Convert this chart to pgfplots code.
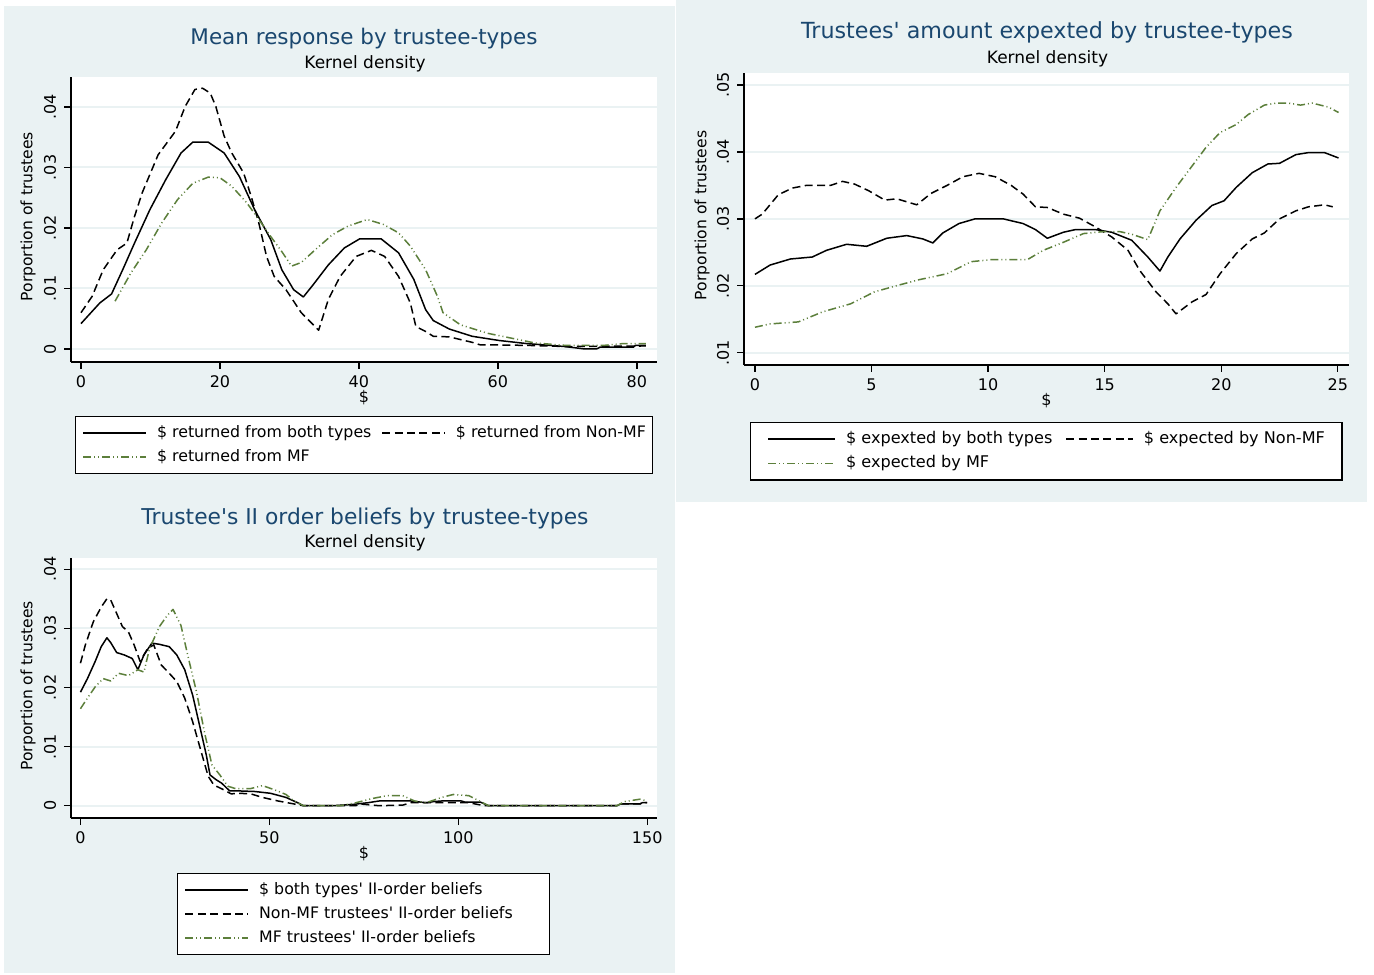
\documentclass[border=0pt]{standalone}
\usepackage{fontspec}
\setmainfont{DejaVu Sans}
\usepackage{pgfplots}
\pgfplotsset{compat=1.18}
\definecolor{bgc}{HTML}{EAF2F3}
\definecolor{ttl}{HTML}{1A476F}
\definecolor{mfg}{HTML}{5C7F3B}
\newcommand\q{\textquotesingle}
\pgfplotsset{
 statastyle/.style={
  scale only axis,
  axis x line*=bottom, axis y line*=left,
  x axis line style={-, line width=0.65pt},
  y axis line style={-, line width=0.65pt},
  axis background/.style={fill=white},
  tick align=outside, major tick length=3.5pt,
  every tick/.style={black, line width=0.65pt},
  ymajorgrids, major grid style={bgc, line width=1pt},
  scaled ticks=false,
  /pgf/number format/assume math mode=true,
  tick label style={font=\fontsize{8}{9}\selectfont},
  yticklabel style={rotate=90, anchor=south, inner sep=0pt},
  xticklabel style={anchor=north, inner sep=0pt},
  yticklabel shift=3.75pt, xticklabel shift=3.25pt,
  every axis y label/.style={rotate=90, anchor=center, font=\fontsize{7.8}{8.5}\selectfont},
  every axis x label/.style={anchor=center, font=\fontsize{8}{9}\selectfont},
  legend cell align=left,
  legend style={draw=black, line width=0.6pt, fill=white, anchor=north west,
    font=\fontsize{7.9}{9.5}\selectfont, inner xsep=3.5pt, inner ysep=3pt, row sep=1.5pt,
    nodes={inner xsep=0pt, inner ysep=1.5pt},
    /tikz/every odd column/.append style={column sep=5pt},
    /tikz/every even column/.append style={column sep=5pt}},
  legend image code/.code={\draw[##1] (0pt,0pt) -- (31.5pt,0pt);},
 },
 solidc/.style={black, line width=0.75pt, line join=round},
 dashc/.style={black, line width=0.75pt, line join=round, dash pattern=on 4pt off 2.2pt},
 mfc/.style={mfg, line width=0.75pt, line join=round, dash pattern=on 4pt off 1.5pt on 0.5pt off 1.5pt on 0.5pt off 1.5pt},
}
\begin{document}
\begin{tikzpicture}
\path[use as bounding box] (0,0) rectangle (687pt,487pt);
\fill[bgc] (2pt,0.5pt) rectangle (337.5pt,484pt);
\fill[bgc] (338pt,236.2pt) rectangle (683.5pt,487pt);

% titles
\node[anchor=base, text=ttl, font=\fontsize{10.75}{12}\selectfont] at (182pt,464.5pt) {Mean response by trustee-types};
\node[anchor=base, font=\fontsize{8.5}{10}\selectfont] at (182.5pt,452.5pt) {Kernel density};
\node[anchor=base, text=ttl, font=\fontsize{11.1}{12}\selectfont] at (523.5pt,467.5pt) {Trustees\q{} amount expexted by trustee-types};
\node[anchor=base, font=\fontsize{8.5}{10}\selectfont] at (523.75pt,455pt) {Kernel density};
\node[anchor=base, text=ttl, font=\fontsize{10.9}{12}\selectfont] at (182.5pt,224.85pt) {Trustee\q{}s II order beliefs by trustee-types};
\node[anchor=base, font=\fontsize{8.5}{10}\selectfont] at (182.5pt,213pt) {Kernel density};

% Panel 1
\begin{axis}[statastyle, at={(35.5pt,306pt)}, anchor=south west,
  width=293pt, height=142.5pt,
  xmin=-1.44, xmax=82.9, ymin=-0.00215, ymax=0.04496,
  xtick={0,20,40,60,80}, xticklabels={0,20,40,60,80},
  ytick={0,0.01,0.02,0.03,0.04}, yticklabels={0,.01,.02,.03,.04},
  ylabel={Porportion of trustees}, xlabel={\$},
  ylabel style={at={(axis description cs:-0.0734,0.51)}},
  xlabel style={at={(axis description cs:0.5,-0.126)}},
  legend columns=2,
  legend style={at={(axis description cs:0.0068,-0.1895)}},
]
\addplot[solidc] coordinates {(0,0.0042)(2.7,0.0076)(4.4,0.0091)(6.0,0.0131)(7.7,0.0175)(9.9,0.0230)(12.2,0.0280)(14.4,0.0324)(16.1,0.0342)(18.3,0.0342)(20.6,0.0324)(22.8,0.0285)(25.0,0.0230)(27.3,0.0181)(28.9,0.0131)(30.6,0.0098)(32.0,0.0086)(33.4,0.0106)(35.6,0.0139)(37.9,0.0167)(40.1,0.0182)(43.2,0.0182)(45.7,0.0159)(47.9,0.0115)(49.6,0.0065)(50.7,0.0047)(53.0,0.0033)(56.3,0.0021)(60.2,0.0014)(64.1,0.0009)(69.7,0.0004)(72.5,0.0)(74.2,0)(74.7,0.0003)(79.5,0.0003)(79.8,0.0006)(81.3,0.0006)};
\addlegendentry{\$ returned from both types}
\addplot[dashc] coordinates {(0,0.0060)(1.6,0.0087)(3.2,0.0131)(5.2,0.0164)(6.6,0.0175)(7.7,0.0219)(8.8,0.0258)(11.1,0.0321)(13.6,0.0360)(15.0,0.0401)(16.4,0.0429)(17.5,0.0431)(18.6,0.0423)(19.4,0.0401)(20.6,0.0352)(21.7,0.0324)(23.4,0.0291)(24.5,0.0252)(25.6,0.0208)(26.7,0.0153)(27.8,0.0120)(29.5,0.0098)(31.7,0.0060)(34.2,0.0031)(35.6,0.0082)(37.3,0.0120)(39.6,0.0153)(41.8,0.0163)(43.7,0.0153)(45.7,0.0120)(47.4,0.0076)(48.2,0.0037)(49.6,0.0029)(50.7,0.0021)(53.0,0.0020)(56.3,0.0011)(57.4,0.0007)(64.1,0.0006)(70,0.0004)(81.3,0.0005)};
\addlegendentry{\$ returned from Non-MF}
\addplot[mfc] coordinates {(4.9,0.0079)(7.2,0.0126)(9.4,0.0164)(11.6,0.0208)(13.9,0.0247)(16.1,0.0274)(18.3,0.0284)(20.0,0.0283)(21.7,0.0269)(23.9,0.0241)(25.6,0.0214)(27.3,0.0186)(28.9,0.0161)(30.3,0.0137)(31.7,0.0143)(34.0,0.0167)(36.2,0.0189)(38.4,0.0203)(41.2,0.0214)(43.5,0.0206)(45.7,0.0192)(47.4,0.0170)(49.6,0.0131)(51.3,0.0087)(52.1,0.0060)(54.6,0.0040)(58.5,0.0026)(61.9,0.0018)(65.3,0.0010)(69.7,0.0006)(75.3,0.0006)(78.1,0.0009)(81.3,0.0009)};
\addlegendentry{\$ returned from MF}
\end{axis}

% Panel 2
\begin{axis}[statastyle, at={(372pt,304.5pt)}, anchor=south west,
  width=302.5pt, height=146pt,
  xmin=-0.47, xmax=25.48, ymin=0.00816, ymax=0.0518,
  xtick={0,5,10,15,20,25}, xticklabels={0,5,10,15,20,25},
  ytick={0.01,0.02,0.03,0.04,0.05}, yticklabels={.01,.02,.03,.04,.05},
  ylabel={Porportion of trustees}, xlabel={\$},
  ylabel style={at={(axis description cs:-0.0694,0.512)}},
  xlabel style={at={(axis description cs:0.5,-0.123)}},
  legend columns=2,
  legend style={at={(axis description cs:0.0099,-0.195)}, inner xsep=8.5pt,
    font=\fontsize{8.05}{9.6}\selectfont,
    /tikz/every even column/.append style={column sep=6.5pt}},
  legend image code/.code={\draw[#1] (0pt,0pt) -- (33.5pt,0pt);},
]
\addplot[solidc] coordinates {(0,0.0217)(0.65,0.0231)(1.52,0.0240)(2.46,0.0243)(3.07,0.0253)(3.93,0.0262)(4.79,0.0259)(5.65,0.0271)(6.51,0.0275)(7.20,0.0270)(7.63,0.0264)(8.06,0.0279)(8.75,0.0293)(9.44,0.0300)(10.65,0.0300)(11.5,0.0293)(12.03,0.0284)(12.54,0.0271)(13.23,0.0280)(13.75,0.0284)(14.6,0.0284)(15.3,0.0280)(16.16,0.0268)(16.85,0.0243)(17.37,0.0222)(17.71,0.0243)(18.23,0.0270)(18.92,0.0298)(19.6,0.0320)(20.12,0.0327)(20.64,0.0347)(21.33,0.0369)(22.0,0.0382)(22.5,0.0383)(23.2,0.0396)(23.74,0.0399)(24.43,0.0399)(25.03,0.0391)};
\addlegendentry{\$ expexted by both types}
\addplot[dashc] coordinates {(0,0.0300)(0.31,0.0307)(1.0,0.0336)(1.6,0.0346)(2.2,0.0350)(3.24,0.0350)(3.76,0.0356)(4.27,0.0352)(4.88,0.0342)(5.57,0.0328)(6.08,0.0330)(6.94,0.0321)(7.55,0.0338)(8.24,0.0350)(8.92,0.0363)(9.61,0.0368)(10.3,0.0363)(10.99,0.0350)(11.5,0.0337)(12.03,0.0318)(12.54,0.0317)(13.23,0.0307)(13.92,0.0301)(14.6,0.0288)(15.3,0.0273)(16.0,0.0253)(16.5,0.0223)(17.2,0.0191)(17.71,0.0173)(18.06,0.0158)(18.75,0.0176)(19.35,0.0187)(19.95,0.0218)(20.64,0.0248)(21.33,0.0270)(21.85,0.0279)(22.5,0.0300)(23.2,0.0312)(23.74,0.0318)(24.43,0.0321)(24.78,0.0318)};
\addlegendentry{\$ expected by Non-MF}
\addplot[mfc] coordinates {(0,0.0138)(0.65,0.0143)(1.86,0.0146)(2.9,0.0161)(4.1,0.0173)(5.13,0.0191)(6.17,0.0201)(7.03,0.0209)(8.24,0.0218)(9.27,0.0236)(10.13,0.0239)(11.68,0.0239)(12.37,0.0253)(13.23,0.0265)(14.09,0.0278)(14.96,0.0281)(15.64,0.0281)(16.16,0.0277)(16.85,0.0269)(17.37,0.0312)(18.06,0.0347)(18.75,0.0379)(19.35,0.0407)(19.95,0.0429)(20.64,0.0441)(21.16,0.0456)(21.85,0.0470)(22.36,0.0473)(22.88,0.0473)(23.4,0.0470)(23.9,0.0473)(24.6,0.0467)(25.03,0.0459)};
\addlegendentry{\$ expected by MF}
\end{axis}

% Panel 3
\begin{axis}[statastyle, at={(35.5pt,78pt)}, anchor=south west,
  width=293pt, height=130pt,
  xmin=-2.5, xmax=152.6, ymin=-0.00208, ymax=0.0419,
  xtick={0,50,100,150}, xticklabels={0,50,100,150},
  ytick={0,0.01,0.02,0.03,0.04}, yticklabels={0,.01,.02,.03,.04},
  ylabel={Porportion of trustees}, xlabel={\$},
  ylabel style={at={(axis description cs:-0.0734,0.508)}},
  xlabel style={at={(axis description cs:0.5,-0.135)}},
  legend columns=1,
  legend style={at={(axis description cs:0.181,-0.2115)}},
]
\addplot[solidc] coordinates {(0,0.0192)(1.85,0.0215)(3.9,0.0244)(5.5,0.0269)(7.0,0.0284)(8.0,0.0276)(9.6,0.0259)(11.6,0.0255)(13.7,0.0249)(15.2,0.0230)(16.8,0.0255)(18.9,0.0275)(20.9,0.0273)(23.5,0.0269)(25.5,0.0255)(27.6,0.0230)(29.7,0.0187)(31.7,0.0131)(33.3,0.0086)(34.3,0.0052)(35.9,0.0044)(37.4,0.0038)(39.5,0.0025)(42.0,0.0025)(46.2,0.0024)(50.3,0.0021)(54.4,0.0014)(57.5,0.0005)(59.0,0)(66.8,0)(71.9,0.0002)(76.0,0.0005)(79.1,0.0008)(87.4,0.0008)(91.5,0.0005)(93.5,0.0007)(95.6,0.0008)(100.8,0.0008)(101.8,0.0006)(105.9,0.0006)(108.0,0)(142,0)(143,0.0003)(148.1,0.0003)(148.7,0.0005)(150,0.0005)};
\addlegendentry{\$ both types\q{} II-order beliefs}
\addplot[dashc] coordinates {(0,0.0241)(1.3,0.0272)(3.4,0.0311)(5.5,0.0336)(7.0,0.0350)(8.0,0.0348)(9.6,0.0325)(11.1,0.0303)(12.7,0.0294)(14.2,0.0272)(15.8,0.0244)(17.8,0.0266)(19.4,0.0272)(21.4,0.0238)(23.5,0.0224)(25.5,0.0210)(27.6,0.0182)(29.7,0.0142)(31.7,0.0097)(33.8,0.0050)(35.3,0.0035)(37.9,0.0027)(39.9,0.0020)(42.0,0.0021)(45.1,0.0020)(48.2,0.0014)(52.3,0.0008)(56.5,0.0003)(59,0)(72.9,0)(73.9,0.0003)(79.1,0)(85.3,0.0001)(87.4,0.0005)(102.8,0.0005)(106.9,0)(142,0)(143,0.0003)(148.1,0.0003)(148.7,0.0005)(150,0.0005)};
\addlegendentry{Non-MF trustees\q{} II-order beliefs\kern15pt}
\addplot[mfc] coordinates {(0,0.0164)(1.85,0.0182)(3.9,0.0201)(6.0,0.0215)(8.0,0.0211)(10.1,0.0224)(12.7,0.0220)(15.2,0.0230)(16.8,0.0226)(18.3,0.0266)(20.9,0.0303)(23.0,0.0322)(24.5,0.0332)(26.6,0.0305)(28.6,0.0249)(30.7,0.0193)(32.8,0.0125)(34.8,0.0069)(36.9,0.0052)(39.0,0.0033)(41.0,0.0029)(45.1,0.0029)(48.2,0.0034)(51.3,0.0027)(54.4,0.0019)(56.5,0.0008)(59,0)(68.8,0)(72.9,0.0005)(77.1,0.0012)(81.2,0.0017)(85.3,0.0017)(88.4,0.0008)(91.5,0.0005)(95.6,0.0014)(98.7,0.0019)(102.8,0.0017)(105.9,0.0007)(108,0)(142,0)(144,0.0007)(148.1,0.0011)(150,0.0008)};
\addlegendentry{MF trustees\q{} II-order beliefs}
\end{axis}
\end{tikzpicture}
\end{document}
